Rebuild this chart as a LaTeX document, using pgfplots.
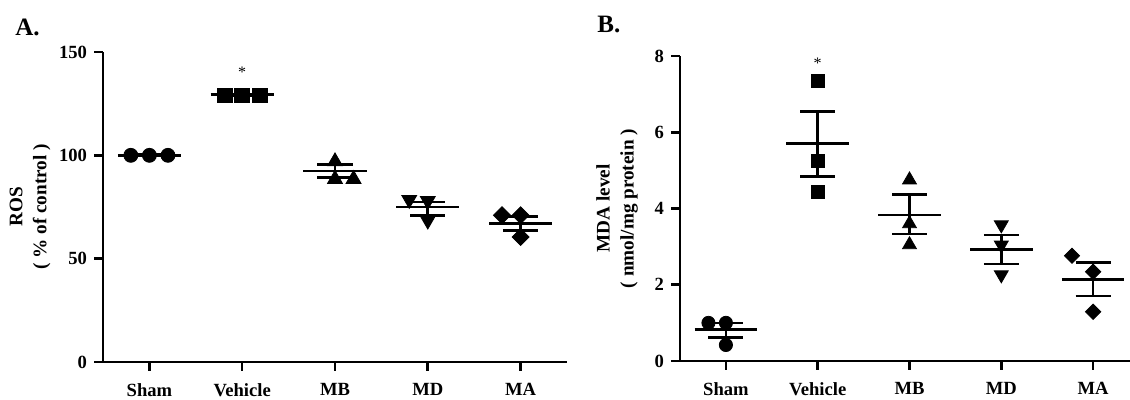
\documentclass[border=0pt]{standalone}
\usepackage{fontspec}
\setmainfont{Liberation Serif}
\usepackage{pgfplots}
\pgfplotsset{compat=1.18}
\begin{document}
\begin{tikzpicture}
\useasboundingbox (0,0) rectangle (565pt,200pt);
\pgfplotsset{
  myax/.style={
    scale only axis,
    anchor=south west,
    axis x line*=bottom, axis y line*=left,
    axis line style={line width=1.3pt, black},
    every tick/.style={line width=1.3pt, black},
    tick align=outside,
    major tick length=4.5pt,
    xmin=-0.5, xmax=4.5,
    xtick={0,1,2,3,4},
    xticklabels={Sham,Vehicle,MB,MD,MA},
    ticklabel style={font=\fontsize{9.3}{10}\selectfont\bfseries},
    x tick label style={yshift=-2.7pt},
    /pgf/number format/assume math mode=true,
    label style={font=\fontsize{9.6}{12}\selectfont\bfseries, align=center},
    clip=false,
    unbounded coords=jump,
  },
  el/.style={black, line width=1.3pt, mark=none},
}
% ---------------- Panel A ----------------
\begin{axis}[myax, at={(51.5pt,19pt)}, width=232pt, height=155pt,
  ymin=0, ymax=150, ytick={0,50,100,150},
  ylabel={ROS\\( \% of control )},
  y label style={at={(axis description cs:-0.157,0.5)}, anchor=center}]
\addplot[only marks, black, mark=*, mark size=3.5pt] coordinates {(-0.2,100) (0,100) (0.2,100)};
\addplot[only marks, black, mark=square*, mark size=3.7pt] coordinates {(0.81,129) (1,129) (1.19,129)};
\addplot[only marks, black, mark=triangle*, mark size=4.3pt] coordinates {(2,97) (2,88.5) (2.2,88.5)};
\addplot[only marks, black, mark=triangle*, mark size=4.3pt, mark options={rotate=180}] coordinates {(2.8,78.5) (3,78) (3,68.5)};
\addplot[only marks, black, mark=square*, mark size=3pt, mark options={rotate=45}] coordinates {(3.8,71) (4,71) (4,60.5)};
% mean and SEM lines
\addplot[el] coordinates {
 (-0.34,100) (0.34,100) (0,nan) (-0.19,100.4) (0.19,100.4) (0,nan) (-0.19,99.6) (0.19,99.6) (0,nan)
 (0.66,129.3) (1.34,129.3) (1,nan) (0.81,129.7) (1.19,129.7) (1,nan) (0.81,128.9) (1.19,128.9) (1,nan)
 (1.66,92.5) (2.34,92.5) (2,nan) (1.81,95.5) (2.19,95.5) (2,nan) (1.81,89.2) (2.19,89.2) (2,nan) (2,95.5) (2,89.2) (2,nan)
 (2.66,75) (3.34,75) (3,nan) (2.81,77.5) (3.19,77.5) (3,nan) (2.81,71) (3.19,71) (3,nan) (3,77.5) (3,71) (3,nan)
 (3.66,67) (4.34,67) (4,nan) (3.81,70.3) (4.19,70.3) (4,nan) (3.81,63.5) (4.19,63.5) (4,nan) (4,70.3) (4,63.5)
};
\node[font=\fontsize{8}{8}\selectfont] at (axis cs:1,140) {*};
\end{axis}
% ---------------- Panel B ----------------
\begin{axis}[myax, at={(340pt,19.5pt)}, width=229.5pt, height=152.5pt,
  ymin=0, ymax=8, ytick={0,2,4,6,8},
  ylabel={MDA level\\( nmol/mg protein )},
  y label style={at={(axis description cs:-0.137,0.5)}, anchor=center}]
\addplot[only marks, black, mark=*, mark size=3.3pt] coordinates {(-0.19,1.0) (0,1.0) (0,0.42)};
\addplot[only marks, black, mark=square*, mark size=3.2pt] coordinates {(1,7.35) (1,5.25) (1,4.44)};
\addplot[only marks, black, mark=triangle*, mark size=4pt] coordinates {(2,4.75) (2,3.6) (2,3.05)};
\addplot[only marks, black, mark=triangle*, mark size=4pt, mark options={rotate=180}] coordinates {(3,3.57) (3,3.04) (3,2.26)};
\addplot[only marks, black, mark=square*, mark size=2.7pt, mark options={rotate=45}] coordinates {(3.77,2.76) (4,2.34) (4,1.29)};
\addplot[el] coordinates {
 (-0.34,0.83) (0.34,0.83) (0,nan) (-0.19,1.0) (0.19,1.0) (0,nan) (-0.19,0.61) (0.19,0.61) (0,nan) (0,1.0) (0,0.61) (0,nan)
 (0.66,5.71) (1.34,5.71) (1,nan) (0.81,6.54) (1.19,6.54) (1,nan) (0.81,4.84) (1.19,4.84) (1,nan) (1,6.54) (1,4.84) (1,nan)
 (1.66,3.83) (2.34,3.83) (2,nan) (1.81,4.36) (2.19,4.36) (2,nan) (1.81,3.33) (2.19,3.33) (2,nan) (2,4.36) (2,3.33) (2,nan)
 (2.66,2.93) (3.34,2.93) (3,nan) (2.81,3.31) (3.19,3.31) (3,nan) (2.81,2.54) (3.19,2.54) (3,nan) (3,3.31) (3,2.54) (3,nan)
 (3.66,2.14) (4.34,2.14) (4,nan) (3.81,2.58) (4.19,2.58) (4,nan) (3.81,1.71) (4.19,1.71) (4,nan) (4,2.58) (4,1.71)
};
\node[font=\fontsize{8}{8}\selectfont] at (axis cs:1,7.8) {*};
\end{axis}
\node[anchor=base west, inner sep=0pt, font=\fontsize{12.5}{13}\selectfont\bfseries] at (7.5pt,182pt) {A.};
\node[anchor=base west, inner sep=0pt, font=\fontsize{12.5}{13}\selectfont\bfseries] at (298.5pt,183.5pt) {B.};
\end{tikzpicture}
\end{document}
